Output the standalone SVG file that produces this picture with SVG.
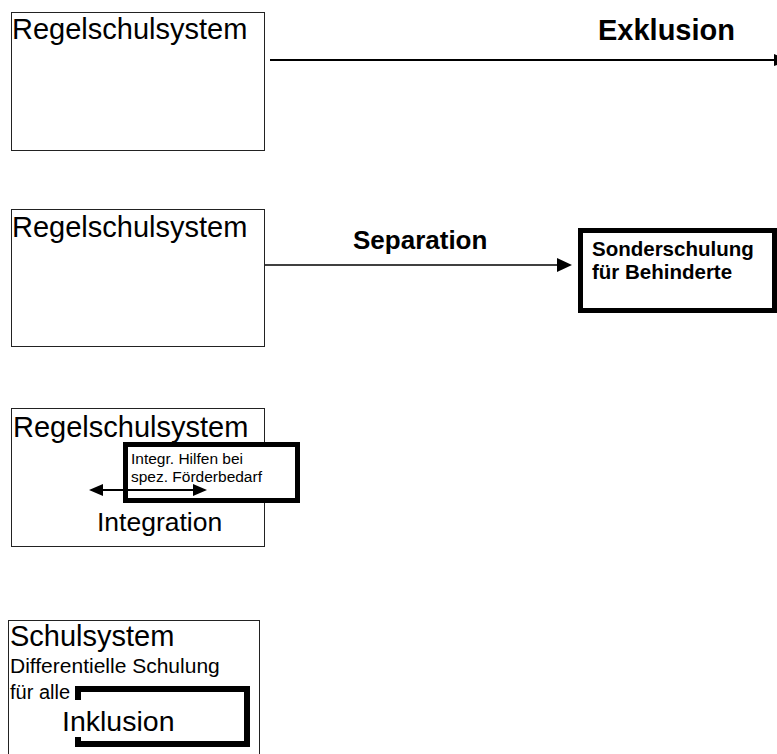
<svg xmlns="http://www.w3.org/2000/svg" width="777" height="754" viewBox="0 0 777 754">
<style>
text{font-family:"Liberation Sans",Arial,sans-serif;fill:#000}
.b{font-weight:bold}
.box{fill:#fff;stroke:#222;stroke-width:1}
.thick{fill:#fff;stroke:#000;stroke-width:5}
.ln{stroke:#000;fill:none}
</style>
<rect width="777" height="754" fill="#fff"/>
<g id="connectors">
<line class="ln" x1="270" y1="60" x2="775" y2="60" stroke-width="2"/>
<polygon points="774,54 790,60 774,66" fill="#000"/>
<line class="ln" x1="265" y1="265" x2="560" y2="265" stroke-width="1.5"/>
<polygon points="557,258 572,265 557,272" fill="#000"/>
</g>
<g id="n1">
<rect class="box" x="11.5" y="12.5" width="253" height="138"/>
<text x="12" y="39" font-size="29">Regelschulsystem</text>
</g>
<g id="lbl-exklusion"><text class="b" x="598" y="40" font-size="29">Exklusion</text></g>
<g id="n2">
<rect class="box" x="11.5" y="209.5" width="253" height="137"/>
<text x="12" y="237" font-size="29">Regelschulsystem</text>
</g>
<g id="lbl-separation"><text class="b" x="353" y="249" font-size="26">Separation</text></g>
<g id="n-sonder">
<rect class="thick" x="580.5" y="230.5" width="194" height="80"/>
<text class="b" x="592" y="256" font-size="20.5">Sonderschulung</text>
<text class="b" x="592" y="279" font-size="20.5">für Behinderte</text>
</g>
<g id="n3">
<rect class="box" x="11.5" y="408.5" width="253" height="138"/>
<text x="13" y="437" font-size="29">Regelschulsystem</text>
</g>
<g id="n-hilfen">
<rect class="thick" x="125.5" y="444.5" width="172" height="56"/>
<text x="131" y="464" font-size="15.5">Integr. Hilfen bei</text>
<text x="131" y="482" font-size="15.5">spez. Förderbedarf</text>
</g>
<g id="integration-arrow">
<line class="ln" x1="100" y1="490" x2="197" y2="490" stroke-width="2"/>
<polygon points="103,484 89,490 103,496" fill="#000"/>
<polygon points="193,484 207,490 193,496" fill="#000"/>
</g>
<g id="lbl-integration"><text x="97" y="531" font-size="26.5">Integration</text></g>
<g id="n4">
<rect class="box" x="8.5" y="620.5" width="251" height="140"/>
<text x="10" y="646" font-size="29">Schulsystem</text>
<text x="10" y="673" font-size="21">Differentielle Schulung</text>
<text x="10" y="699" font-size="20">für alle</text>
</g>
<g id="n-inklusion">
<path d="M78 700 V689 H247 V744 H78 V737" fill="none" stroke="#000" stroke-width="6"/>
<text x="62" y="731" font-size="28.5">Inklusion</text>
</g>
</svg>
